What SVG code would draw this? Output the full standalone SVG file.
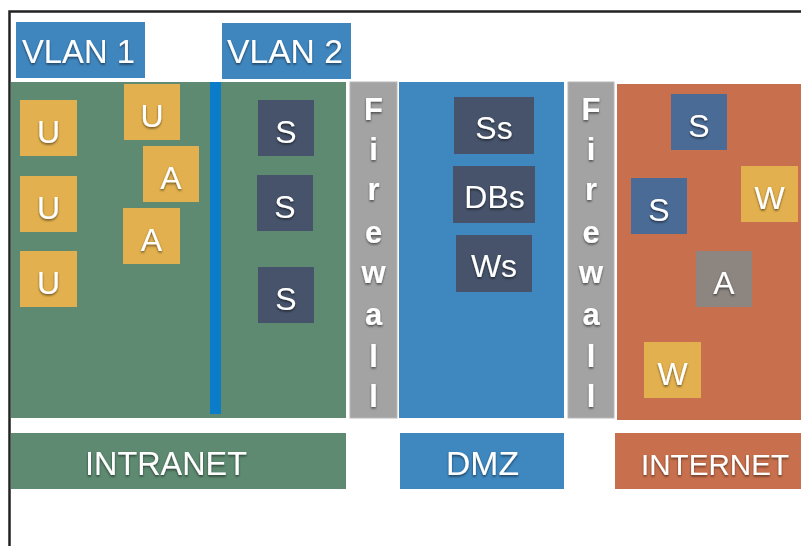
<svg xmlns="http://www.w3.org/2000/svg" width="801" height="546" viewBox="0 0 801 546">
<defs>
<filter id="ts" x="-5%" y="-20%" width="110%" height="160%">
<feDropShadow dx="0" dy="1.5" stdDeviation="1.2" flood-color="#000" flood-opacity="0.55"/>
</filter>
</defs>
<style>
text{font-family:"Liberation Sans","Helvetica Neue",Arial,sans-serif;fill:#fff;filter:url(#ts)}
.n{font-size:32px;text-anchor:middle}
.lbl{font-size:33px}
.fw{font-size:31px;font-weight:bold;text-anchor:middle}
.yel{fill:#e2b04e}
.dark{fill:#46536a}
.ib{fill:#4a6b95}
.gry{fill:#8c8580}
</style>
<rect width="801" height="546" fill="#fff"/>
<path d="M9.5 546 V11.5 H801" fill="none" stroke="#222" stroke-width="2.5"/>

<g id="vlan1"><rect x="16" y="22" width="129" height="56" fill="#3f86bf"/><text class="lbl" x="22" y="63" textLength="113" lengthAdjust="spacingAndGlyphs">VLAN 1</text></g>
<g id="vlan2"><rect x="222" y="23" width="129" height="56" fill="#3f86bf"/><text class="lbl" x="227" y="63" textLength="116" lengthAdjust="spacingAndGlyphs">VLAN 2</text></g>

<g id="intranet-zone"><rect x="11" y="82" width="335" height="336" fill="#5d8a70"/></g>
<g id="vlan-divider"><rect x="210" y="82" width="11" height="332" fill="#0a7cc9"/></g>
<g id="firewall1"><rect x="350" y="82" width="47" height="336" fill="#a3a3a3" stroke="#b8b8b8" stroke-width="1"/>
<text class="fw" x="373.5" y="120">F</text><text class="fw" x="373.5" y="160">i</text><text class="fw" x="373.5" y="200">r</text><text class="fw" x="373.5" y="243">e</text><text class="fw" x="373.5" y="283">w</text><text class="fw" x="373.5" y="325">a</text><text class="fw" x="373.5" y="367">l</text><text class="fw" x="373.5" y="407">l</text></g>
<g id="dmz-zone"><rect x="399" y="82" width="165" height="336" fill="#3e87bf"/></g>
<g id="firewall2"><rect x="568" y="82" width="46" height="336" fill="#a3a3a3" stroke="#b8b8b8" stroke-width="1"/>
<text class="fw" x="591" y="120">F</text><text class="fw" x="591" y="160">i</text><text class="fw" x="591" y="200">r</text><text class="fw" x="591" y="243">e</text><text class="fw" x="591" y="283">w</text><text class="fw" x="591" y="325">a</text><text class="fw" x="591" y="367">l</text><text class="fw" x="591" y="407">l</text></g>
<g id="internet-zone"><rect x="617" y="84" width="184" height="336" fill="#c8704d"/></g>

<g id="u1"><rect class="yel" x="20" y="100" width="57" height="56"/><text class="n" x="48.5" y="143">U</text></g>
<g id="u2"><rect class="yel" x="20" y="176" width="57" height="56"/><text class="n" x="48.5" y="219">U</text></g>
<g id="u3"><rect class="yel" x="20" y="251" width="57" height="56"/><text class="n" x="48.5" y="294">U</text></g>
<g id="u4"><rect class="yel" x="124" y="84" width="56" height="56"/><text class="n" x="152" y="127">U</text></g>
<g id="a1"><rect class="yel" x="143" y="146" width="56" height="56"/><text class="n" x="171" y="189">A</text></g>
<g id="a2"><rect class="yel" x="123" y="208" width="57" height="56"/><text class="n" x="151.5" y="251">A</text></g>
<g id="s1"><rect class="dark" x="258" y="100" width="56" height="56"/><text class="n" x="286" y="143">S</text></g>
<g id="s2"><rect class="dark" x="257" y="175" width="56" height="56"/><text class="n" x="285" y="218">S</text></g>
<g id="s3"><rect class="dark" x="258" y="267" width="56" height="56"/><text class="n" x="286" y="310">S</text></g>

<g id="ss"><rect class="dark" x="454" y="97" width="80" height="57"/><text class="n" x="494" y="139">Ss</text></g>
<g id="dbs"><rect class="dark" x="453" y="166" width="82" height="57"/><text class="n" x="494.5" y="208">DBs</text></g>
<g id="ws"><rect class="dark" x="456" y="235" width="76" height="57"/><text class="n" x="494" y="277">Ws</text></g>

<g id="is1"><rect class="ib" x="671" y="94" width="56" height="56"/><text class="n" x="699" y="137">S</text></g>
<g id="iw1"><rect class="yel" x="741" y="166" width="57" height="56"/><text class="n" x="769.5" y="209">W</text></g>
<g id="is2"><rect class="ib" x="631" y="178" width="56" height="56"/><text class="n" x="659" y="221">S</text></g>
<g id="ia"><rect class="gry" x="696" y="251" width="56" height="56"/><text class="n" x="724" y="294">A</text></g>
<g id="iw2"><rect class="yel" x="644" y="342" width="57" height="56"/><text class="n" x="672.5" y="385">W</text></g>

<g id="intranet-label"><rect x="11" y="433" width="335" height="56" fill="#5d8a70"/><text class="lbl" x="85" y="475" textLength="162" lengthAdjust="spacingAndGlyphs">INTRANET</text></g>
<g id="dmz-label"><rect x="400" y="433" width="164" height="56" fill="#3e87bf"/><text class="lbl" x="446" y="475" textLength="73" lengthAdjust="spacingAndGlyphs">DMZ</text></g>
<g id="internet-label"><rect x="615" y="433" width="186" height="56" fill="#c8704d"/><text x="641" y="475" font-size="30" textLength="148" lengthAdjust="spacingAndGlyphs">INTERNET</text></g>

<g id="connectors"/>
</svg>
